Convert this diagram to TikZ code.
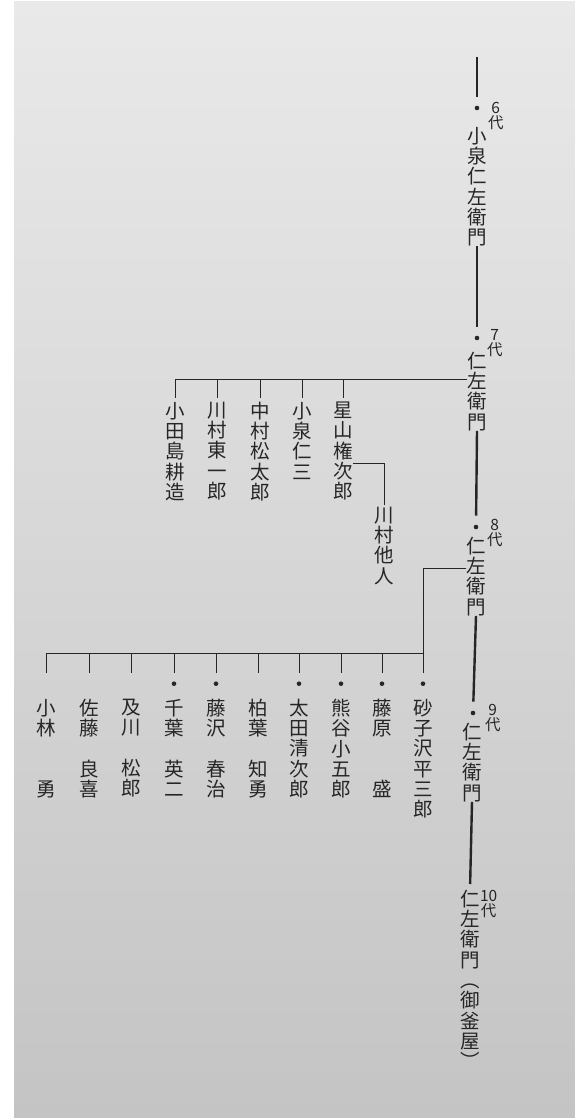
\documentclass[tikz,border=0pt]{standalone}
\usepackage{fontspec}
\newfontfamily\cjk{Noto Sans CJK JP}
\usetikzlibrary{positioning}
\definecolor{ink}{HTML}{262626}
\definecolor{paperhi}{HTML}{E9E9E9}
\definecolor{paperlo}{HTML}{C4C4C4}

\begin{document}
\begin{tikzpicture}
  [
    x                   = 1pt,
    y                   = -1pt,
    every node/.style   = {inner sep=0pt, outer sep=0pt, text=ink},
    namecol/.style      = {anchor=north, align=center,
                           font=\cjk\fontsize{19.5}{20.3}\selectfont,
                           execute at begin node={\rule{0pt}{16.8pt}}},
    genlabel/.style     = {anchor=north west, align=center,
                           font=\cjk\fontsize{15.5}{15}\selectfont},
    pip/.style          = {circle, fill=ink, minimum size=4.6pt},
    spine/.style        = {draw=ink, line width=2.4pt},
    branch/.style       = {draw=ink, line width=0.9pt}
  ]
  \fill[white] (0,0) rectangle (575,1118);
  \shade[top color=paperhi, bottom color=paperlo] (14,2) rectangle (575,1118);
  \useasboundingbox (0,0) rectangle (575,1118);

  \coordinate (top) at (477,57);
  \node[pip] (d6) at (477,108) {};
  \node[namecol] (g6) at (477,127) {小\\泉\\仁\\左\\衛\\門};
  \node[genlabel] (l6) at (488,102) {6\\代};

  \node[pip] (d7) at (477,338) {};
  \node[namecol] (g7) at (477,352) {仁\\左\\衛\\門};
  \node[genlabel] (l7) at (487,329) {7\\代};

  \node[pip] (d8) at (476,527) {};
  \node[namecol] (g8) at (476,537) {仁\\左\\衛\\門};
  \node[genlabel] (l8) at (487,519) {8\\代};

  \node[pip] (d9) at (473,713) {};
  \node[namecol] (g9) at (472,723) {仁\\左\\衛\\門};
  \node[genlabel] (l9) at (485,704) {9\\代};

  \node[namecol] (g10) at (470,890) {仁\\左\\衛\\門};
  \node[namecol, below=15pt of g10] (g10p) {︵\\御\\釜\\屋\\︶};
  \node[genlabel] (l10) at (480,890) {10\\代};

  \draw[spine, shorten >=9pt] (top) -- (d6);
  \draw[spine, shorten >=9pt] (g6.south) -- (d7);
  \draw[spine, shorten >=9pt] (g7.south) -- (d8);
  \draw[spine, shorten >=9pt] (g8.south) -- (d9);
  \draw[spine, shorten >=6pt] (g9.south) -- (g10.north);

  \node[namecol] (k1) at (175,402) {小\\田\\島\\耕\\造};
  \node[namecol] (k2) at (217,402) {川\\村\\東\\一\\郎};
  \node[namecol] (k3) at (260,402) {中\\村\\松\\太\\郎};
  \node[namecol] (k4) at (302,402) {小\\泉\\仁\\三};
  \node[namecol] (k5) at (343,402) {星\\山\\権\\次\\郎};
  \node[namecol] (tanin) at (384,507) {川\\村\\他\\人};

  \coordinate (bar7) at (175,379);
  \draw[branch, shorten >=4pt] (g7.west |- bar7) -| (k1.north);
  \foreach \k in {k2,k3,k4,k5}
    \draw[branch, shorten >=4pt] (\k.north |- bar7) -- (\k.north);
  \draw[branch, shorten >=2pt] (k5.north east) ++(0,61) -| (tanin.north);

  \node[namecol] (m1) at (46,699) {小\\林\\~\\~\\勇};
  \node[namecol] (m2) at (89,699) {佐\\藤\\~\\良\\喜};
  \node[namecol] (m3) at (131,699) {及\\川\\~\\松\\郎};
  \node[namecol] (m4) at (174,699) {千\\葉\\~\\英\\二};
  \node[namecol] (m5) at (216,699) {藤\\沢\\~\\春\\治};
  \node[namecol] (m6) at (258,699) {柏\\葉\\~\\知\\勇};
  \node[namecol] (m7) at (299,699) {太\\田\\清\\次\\郎};
  \node[namecol] (m8) at (341,699) {熊\\谷\\小\\五\\郎};
  \node[namecol] (m9) at (382,699) {藤\\原\\~\\~\\盛};
  \node[namecol] (m10) at (423,699) {砂\\子\\沢\\平\\三\\郎};

  \coordinate (fork8) at (423,568);
  \coordinate (bar8) at (46,653);
  \draw[branch, shorten >=26pt] (g8.west |- fork8) -| (m10.north);
  \draw[branch, shorten >=26pt] (m10.north |- bar8) -| (m1.north);
  \foreach \m in {m2,m3,m4,m5,m6,m7,m8,m9}
    \draw[branch, shorten >=26pt] (\m.north |- bar8) -- (\m.north);
  \foreach \m in {m4,m5,m7,m8,m9,m10}
    \node[pip, above=13pt of \m] (\m p) {};
\end{tikzpicture}
\end{document}
